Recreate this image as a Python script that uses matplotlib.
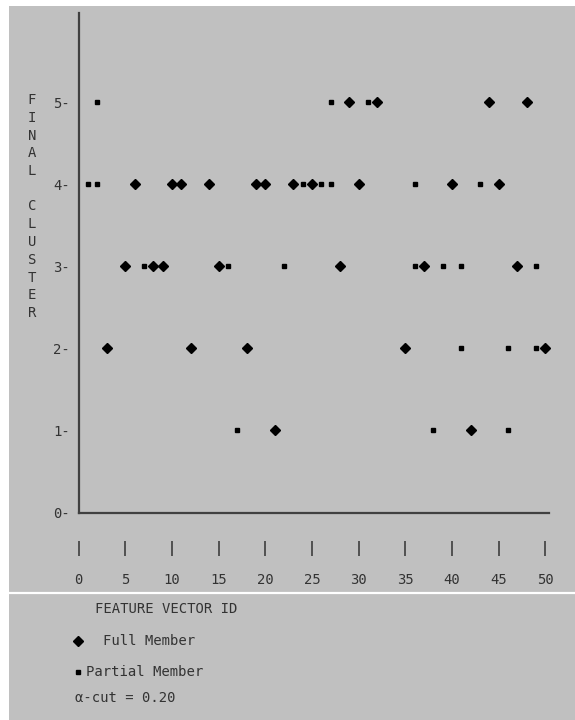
import matplotlib
matplotlib.use("Agg")
import matplotlib.pyplot as plt
from matplotlib.patches import Rectangle
from matplotlib.lines import Line2D

# ---- data ----
full_id = [3, 5, 6, 8, 9, 10, 11, 12, 14, 15, 18, 19, 20, 21, 23, 25, 28, 29, 30,
           32, 35, 37, 40, 42, 44, 45, 47, 48, 50]
full_cluster = [2, 3, 4, 3, 3, 4, 4, 2, 4, 3, 2, 4, 4, 1, 4, 4, 3, 5, 4,
                5, 2, 3, 4, 1, 5, 4, 3, 5, 2]
partial_id = [1, 2, 2, 7, 16, 17, 22, 24, 26, 27, 27, 31, 36, 36, 38, 39, 41, 41,
              43, 46, 46, 49, 49]
partial_cluster = [4, 4, 5, 3, 3, 1, 3, 4, 4, 4, 5, 5, 4, 3, 1, 3, 3, 2,
                   4, 2, 1, 3, 2]
x_ticks = [0, 5, 10, 15, 20, 25, 30, 35, 40, 45, 50]
y_ticks = [0, 1, 2, 3, 4, 5]
y_label = "FINAL CLUSTER"
x_label = "FEATURE VECTOR ID"
legend_full = "Full Member"
legend_partial = "Partial Member"
alpha_text = "\u03b1-cut = 0.20"

W, H = 575, 720
BG = "#c0c0c0"
TXT = "#333333"
MONO = ["DejaVu Sans Mono", "DejaVu Sans"]

def fx(px):
    return px / W

def fy(py):
    return 1 - py / H

fig = plt.figure(figsize=(W / 100, H / 100), dpi=100, facecolor="white")
fig.patches.append(Rectangle((fx(9), 0), 1 - fx(9), fy(6), transform=fig.transFigure,
                             facecolor=BG, edgecolor="none", zorder=-10))
fig.lines.append(Line2D([fx(9), 1], [fy(593), fy(593)], transform=fig.transFigure,
                        color="white", lw=1.6))

x0, x1 = 78.8, 549.0
y0, y1 = 512.5, 13.0
ppu_x = 9.33
ppu_y = 82.1
ax = fig.add_axes([fx(x0), fy(y0), (x1 - x0) / W, (y0 - y1) / H])
ax.set_facecolor("none")
ax.set_xlim(0, (x1 - x0) / ppu_x)
ax.set_ylim(0, (y0 - y1) / ppu_y)
for s in ["top", "right"]:
    ax.spines[s].set_visible(False)
for s in ["left", "bottom"]:
    ax.spines[s].set_color("#404040")
    ax.spines[s].set_linewidth(1.6)

ax.plot(full_id, full_cluster, linestyle="none", marker="D", ms=5.2,
        color="black", mec="black", clip_on=False)
ax.plot(partial_id, partial_cluster, linestyle="none", marker="s", ms=2.6,
        color="black", mec="black", clip_on=False)

ax.set_yticks(y_ticks)
ax.set_yticklabels([f"{v}-" for v in y_ticks], family=MONO, fontsize=10, color=TXT)
ax.tick_params(axis="y", length=0, pad=6.5)
ax.set_xticks([])

sec = ax.secondary_xaxis(-(541 - y0) / (y0 - y1))
sec.spines["bottom"].set_visible(False)
sec.set_xticks(x_ticks)
sec.set_xticklabels([str(v) for v in x_ticks], family=MONO, fontsize=10, color=TXT)
sec.tick_params(axis="x", direction="out", length=10.8, width=1.1, color=TXT, pad=12)

# stacked y label
letters = list(y_label)
ys = 100.0
step = (313.0 - 100.0) / (len(letters) - 1)
for i, ch in enumerate(letters):
    if ch.strip():
        fig.text(fx(32), fy(ys + i * step), ch, family=MONO, fontsize=10, color=TXT,
                 ha="center", va="center")

fig.text(fx(95), fy(609), x_label, family=MONO, fontsize=10, color=TXT,
         ha="left", va="center")
fig.lines.append(Line2D([fx(78)], [fy(641)], transform=fig.transFigure, marker="D",
                        ms=5.0, color="black", linestyle="none"))
fig.text(fx(103), fy(641), legend_full, family=MONO, fontsize=10, color=TXT,
         ha="left", va="center")
fig.lines.append(Line2D([fx(78)], [fy(672)], transform=fig.transFigure, marker="s",
                        ms=2.4, color="black", linestyle="none"))
fig.text(fx(86), fy(672), legend_partial, family=MONO, fontsize=10, color=TXT,
         ha="left", va="center")
fig.text(fx(75), fy(698), alpha_text, family=MONO, fontsize=10, color=TXT,
         ha="left", va="center")

fig.savefig("out.png", dpi=100, facecolor=fig.get_facecolor())
